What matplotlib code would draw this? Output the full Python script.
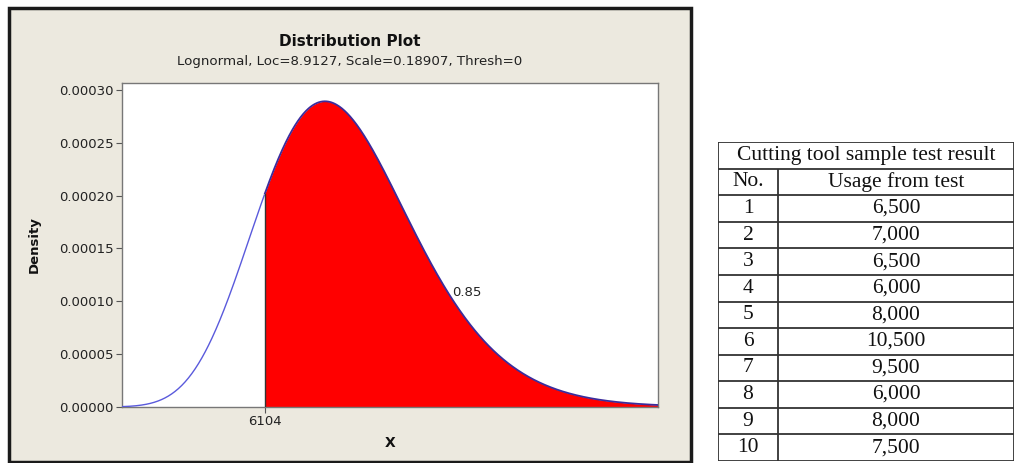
import numpy as np
import matplotlib.pyplot as plt
from matplotlib.patches import Rectangle

# lognormal parameters (from the plot subtitle)
loc = 8.9127
scale = 0.18907
thresh = 0
x_cut = 6104
area_label = '0.85'
x_range = (3580, 13050)
y_ticks = [0.0, 0.00005, 0.00010, 0.00015, 0.00020, 0.00025, 0.00030]

# table data
table_title = 'Cutting tool sample test result'
col_headers = ['No.', 'Usage from test']
sample_no = ['1', '2', '3', '4', '5', '6', '7', '8', '9', '10']
usage = ['6,500', '7,000', '6,500', '6,000', '8,000',
         '10,500', '9,500', '6,000', '8,000', '7,500']

W, H = 1019, 463
fig = plt.figure(figsize=(W / 100, H / 100), dpi=100)
fig.patch.set_facecolor('white')

# beige minitab-style panel
panel_bg = '#ECE9DF'
fig.patches.append(Rectangle((9 / W, 1 / H), (691 - 9) / W, (455 - 1) / H,
                             transform=fig.transFigure, facecolor=panel_bg,
                             edgecolor='#1a1a1a', lw=2.5, zorder=-5))

# ------------------------------------------------------------------
# distribution plot
# ------------------------------------------------------------------
ax = fig.add_axes([122 / W, 1 - 407 / H, (658 - 122) / W, (407 - 83) / H])
ax.set_facecolor('white')

x = np.linspace(x_range[0], x_range[1], 800)
pdf = np.exp(-(np.log(x - thresh) - loc) ** 2 / (2 * scale ** 2)) / ((x - thresh) * scale * np.sqrt(2 * np.pi))
pdf_cut = np.exp(-(np.log(x_cut - thresh) - loc) ** 2 / (2 * scale ** 2)) / ((x_cut - thresh) * scale * np.sqrt(2 * np.pi))

mask = x >= x_cut
xr = np.concatenate([[x_cut], x[mask]])
yr = np.concatenate([[pdf_cut], pdf[mask]])
ax.fill_between(xr, 0, yr, color='#FF0000', lw=0, zorder=2)
ax.plot(x[~mask], pdf[~mask], color='#5a5adc', lw=1.0, zorder=3)
ax.plot(xr, yr, color='#3b2c9c', lw=1.3, zorder=3)
ax.plot([x_cut, x_cut], [0, pdf_cut], color='#333333', lw=1.0, zorder=3)

ax.text(9420, 0.000108, area_label, fontsize=9.5, color='#222222', va='center', ha='left')

ax.set_xlim(*x_range)
ax.set_ylim(0, 0.0003066)
ax.set_xticks([x_cut])
ax.set_xticklabels([str(x_cut)])
ax.set_yticks(y_ticks)
ax.set_yticklabels([f'{v:.5f}' for v in y_ticks])
ax.tick_params(axis='both', labelsize=9.5, colors='#555555', labelcolor='#222222',
               length=4, width=0.8, pad=2)
for s in ax.spines.values():
    s.set_color('#777777')
    s.set_linewidth(1.0)

ax.set_ylabel('Density', fontsize=9.5, fontweight='bold', color='#111111')
ax.yaxis.set_label_coords(-0.152, 0.5)
ax.set_xlabel('X', fontsize=10, fontweight='bold', color='#111111')
ax.xaxis.set_label_coords(0.5, -0.09)

fig.text(350 / W, 1 - 42 / H, 'Distribution Plot', fontsize=11, fontweight='bold',
         ha='center', va='center', color='#111111')
fig.text(350 / W, 1 - 62 / H, f'Lognormal, Loc={loc}, Scale={scale}, Thresh={thresh}',
         fontsize=9.6, ha='center', va='center', color='#222222')

# ------------------------------------------------------------------
# table
# ------------------------------------------------------------------
tab = fig.add_axes([718 / W, 1 - 461 / H, (1014 - 718) / W, (461 - 142) / H])
n_rows = len(sample_no) + 2
tab.set_xlim(0, 1)
tab.set_ylim(n_rows, 0)
tab.axis('off')

split = (778 - 718) / (1014 - 718)
line_kw = dict(color='#333333', lw=1.3, solid_capstyle='butt')
for r in range(n_rows + 1):
    tab.plot([0, 1], [r, r], **line_kw)
tab.plot([0, 0], [0, n_rows], **line_kw)
tab.plot([1, 1], [0, n_rows], **line_kw)
tab.plot([split, split], [1, n_rows], **line_kw)

txt_kw = dict(fontsize=15.5, family='Liberation Serif', color='#111111', ha='center', va='center')
tab.text(0.5, 0.5, table_title, **txt_kw)
tab.text(split / 2, 1.5, col_headers[0], **txt_kw)
tab.text((split + 1) / 2, 1.5, col_headers[1], **txt_kw)
for i, (n, u) in enumerate(zip(sample_no, usage)):
    tab.text(split / 2, i + 2.5, n, **txt_kw)
    tab.text((split + 1) / 2, i + 2.5, u, **txt_kw)

fig.savefig('out.png', dpi=100, facecolor=fig.get_facecolor())
